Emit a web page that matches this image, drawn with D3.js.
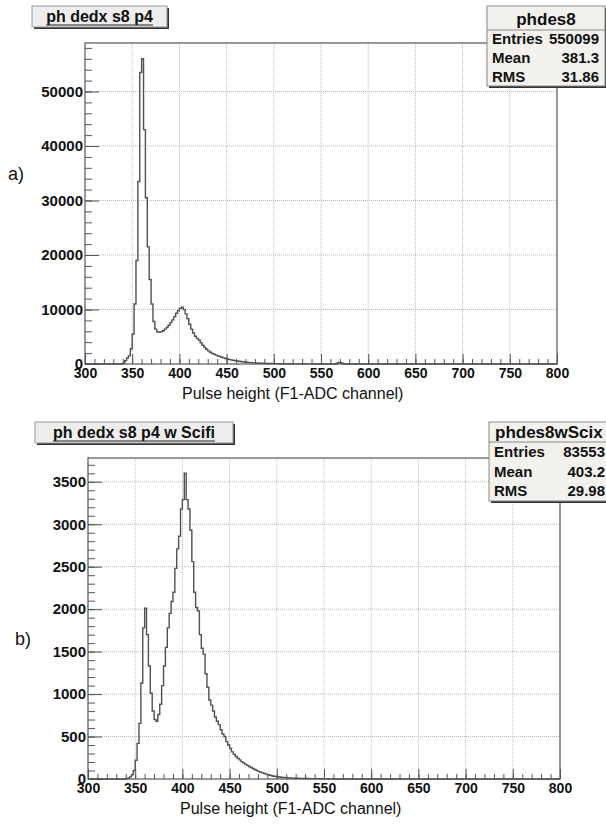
<!DOCTYPE html>
<html>
<head>
<meta charset="utf-8">
<script src="https://cdn.jsdelivr.net/npm/d3@7"></script>
<style>
  body { margin: 0; background: #fff; }
  svg text { font-family: "Liberation Sans", Arial, Helvetica, sans-serif; }
</style>
</head>
<body>
<div id="chart"></div>
<script>
// histogram binning (F1-ADC channels), 2 channels per bin
let xDomain = [300, 800];
let binWidth = 2;
let xMajorTicks = [300, 350, 400, 450, 500, 550, 600, 650, 700, 750, 800];

// panel a) counts per bin, first bin starts at 338
let firstBinA = 338;
let countsA = [
    50, 150, 600, 1100, 1500, 2800, 5500, 11000, 19000, 33500,
    53500, 56000, 43000, 30500, 21500, 15500, 11000, 7800, 6400, 5900,
    5800, 5900, 6100, 6400, 6700, 7100, 7600, 8100, 8700, 9300,
    9800, 10200, 10400, 10000, 9200, 8300, 7300, 6400, 5700, 5100,
    4700, 4400, 3900, 3450, 3050, 2700, 2400, 2150, 1950, 1780,
    1630, 1500, 1380, 1250, 1130, 1020, 920, 830, 750, 680,
    620, 560, 500, 450, 400, 360, 320, 290, 260, 235,
    210, 190, 170, 155, 140, 125, 115, 105, 95, 88,
    80, 74, 68, 62, 57, 52, 48, 44, 40, 37,
    34, 31, 28, 26, 24, 22, 20, 18, 17, 16,
    15, 14, 13, 12, 11, 10, 10, 9, 9, 8,
    8, 7, 7, 6, 150, 300, 250, 80, 20, 10,
    8, 7, 6, 5, 5, 4, 4, 3, 3, 2
];
let yMaxA = 58900;
let yMajorA = [0, 10000, 20000, 30000, 40000, 50000];
let yMinorStepA = 2000;

// panel b) counts per bin, first bin starts at 340
let firstBinB = 340;
let countsB = [
    5, 10, 25, 50, 100, 220, 420, 655, 1130, 1780,
    2010, 1700, 1330, 1010, 800, 700, 680, 760, 880, 1100,
    1330, 1550, 1780, 1950, 2090, 2200, 2480, 2710, 2860, 3180,
    3290, 3600, 3290, 3180, 2930, 2560, 2200, 2020, 1980, 1700,
    1540, 1470, 1240, 1080, 930, 870, 800, 730, 680, 640,
    580, 530, 500, 440, 400, 360, 320, 290, 265, 245,
    225, 205, 190, 175, 160, 148, 136, 124, 112, 100,
    90, 80, 72, 64, 57, 50, 44, 38, 33, 29,
    26, 23, 20, 18, 16, 14, 12, 11, 10, 9,
    8, 8, 7, 7, 6, 6, 6, 5, 5, 5,
    5, 4, 4, 4, 3, 3, 3, 3, 2, 2
];
let yMaxB = 3780;
let yMajorB = [0, 500, 1000, 1500, 2000, 2500, 3000, 3500];
let yMinorStepB = 100;

let titleA = "ph dedx s8 p4";
let titleB = "ph dedx s8 p4 w Scifi";
let statsNameA = "phdes8";
let statsNameB = "phdes8wScix";
let statsA = [["Entries", "550099"], ["Mean", "381.3"], ["RMS", "31.86"]];
let statsB = [["Entries", "83553"], ["Mean", "403.2"], ["RMS", "29.98"]];
let xTitle = "Pulse height (F1-ADC channel)";

let svg = d3.select("#chart")
    .append("svg")
    .attr("width", 606)
    .attr("height", 825);

/**
 * Draws one ROOT-style histogram panel.
 */
function drawPanel(p) {
    let g = svg.append("g");

    let x = d3.scaleLinear().domain(xDomain).range([p.left, p.right]);
    let y = d3.scaleLinear().domain([0, p.yMax]).range([p.bottom, p.top]);
    let h = p.bottom - p.top;
    let w = p.right - p.left;

    // grid
    let grid = g.append("g").attr("class", "grid");
    grid.selectAll(".vg")
        .data(xMajorTicks.slice(1, -1))
        .join("line")
        .attr("x1", d => x(d)).attr("x2", d => x(d))
        .attr("y1", p.top).attr("y2", p.bottom);
    grid.selectAll(".hg")
        .data(p.yMajor.slice(1))
        .join("line")
        .attr("x1", p.left).attr("x2", p.right)
        .attr("y1", d => y(d)).attr("y2", d => y(d));
    grid.selectAll("line")
        .attr("stroke", "#b8b8b8")
        .attr("stroke-width", 1)
        .attr("stroke-dasharray", "1,1");

    // minor ticks
    let xMinor = d3.range(xDomain[0], xDomain[1] + 1, 10);
    g.append("g")
        .attr("transform", `translate(0,${p.bottom})`)
        .call(d3.axisBottom(x).tickValues(xMinor).tickSize(-5).tickFormat(""))
        .call(a => a.select(".domain").remove());
    let yMinor = d3.range(0, p.yMax, p.yMinorStep);
    g.append("g")
        .attr("transform", `translate(${p.left},0)`)
        .call(d3.axisLeft(y).tickValues(yMinor).tickSize(-7).tickFormat(""))
        .call(a => a.select(".domain").remove());

    // major ticks + labels
    let xa = g.append("g")
        .attr("transform", `translate(0,${p.bottom})`)
        .call(d3.axisBottom(x).tickValues(xMajorTicks).tickSize(-10).tickPadding(4).tickFormat(d3.format("d")));
    xa.select(".domain").remove();
    xa.selectAll("text")
        .attr("fill", "#111")
        .style("font-size", "14px")
        .style("font-weight", "bold");

    let ya = g.append("g")
        .attr("transform", `translate(${p.left},0)`)
        .call(d3.axisLeft(y).tickValues(p.yMajor).tickSize(-14).tickPadding(2).tickFormat(d3.format("d")));
    ya.select(".domain").remove();
    ya.selectAll("text")
        .attr("fill", "#111")
        .style("font-size", "15px")
        .style("font-weight", "bold");
    g.selectAll(".tick line").attr("stroke", "#555");

    // frame
    g.append("rect")
        .attr("x", p.left).attr("y", p.top)
        .attr("width", w).attr("height", h)
        .attr("fill", "none")
        .attr("stroke", "#555")
        .attr("stroke-width", 1.2);

    // histogram outline
    let pts = [];
    for (let b = xDomain[0]; b < xDomain[1]; b += binWidth) {
        let i = (b - p.firstBin) / binWidth;
        let v = (i >= 0 && i < p.counts.length) ? p.counts[i] : 0;
        pts.push([b, v]);
    }
    pts.push([xDomain[1], pts[pts.length - 1][1]]);
    let line = d3.line()
        .x(d => x(d[0]))
        .y(d => y(d[1]))
        .curve(d3.curveStepAfter);
    g.append("path")
        .datum(pts)
        .attr("d", line)
        .attr("fill", "none")
        .attr("stroke", "#505050")
        .attr("stroke-width", 1.4);

    // x title
    g.append("text")
        .attr("x", p.xTitleX)
        .attr("y", p.bottom + 35)
        .attr("font-size", 16)
        .attr("fill", "#111")
        .text(xTitle);

    // title box
    let tb = p.titleBox;
    g.append("rect")
        .attr("x", tb.x + 2).attr("y", tb.y + 2)
        .attr("width", tb.w).attr("height", tb.h)
        .attr("fill", "#333");
    g.append("rect")
        .attr("x", tb.x).attr("y", tb.y)
        .attr("width", tb.w).attr("height", tb.h)
        .attr("fill", "#ededed")
        .attr("stroke", "#999");
    let tt = g.append("text")
        .attr("x", tb.x + tb.w / 2)
        .attr("y", tb.y + tb.h - 5)
        .attr("text-anchor", "middle")
        .attr("font-size", 16)
        .attr("font-weight", "bold")
        .attr("fill", "#111")
        .text(p.title);
    let bb = tt.node().getBBox();
    g.append("line")
        .attr("x1", bb.x).attr("x2", bb.x + bb.width)
        .attr("y1", tb.y + tb.h - 2).attr("y2", tb.y + tb.h - 2)
        .attr("stroke", "#222").attr("stroke-width", 1.2);

    // stats box
    let sb = p.statsBox;
    g.append("rect")
        .attr("x", sb.x + 2).attr("y", sb.y + 2)
        .attr("width", sb.w).attr("height", sb.h)
        .attr("fill", "#333");
    g.append("rect")
        .attr("x", sb.x).attr("y", sb.y)
        .attr("width", sb.w).attr("height", sb.h)
        .attr("fill", "#f3f1ee")
        .attr("stroke", "#888");
    g.append("line")
        .attr("x1", sb.x).attr("x2", sb.x + sb.w)
        .attr("y1", sb.y + sb.head).attr("y2", sb.y + sb.head)
        .attr("stroke", "#888");
    g.append("text")
        .attr("x", sb.nameAnchor === "middle" ? sb.x + sb.w / 2 : sb.x + 6)
        .attr("y", sb.y + sb.nameY)
        .attr("text-anchor", sb.nameAnchor)
        .attr("font-size", 17)
        .attr("font-weight", "bold")
        .attr("fill", "#111")
        .text(p.statsName);
    let rowH = (sb.h - sb.head) / p.stats.length;
    p.stats.forEach((r, i) => {
        let ty = sb.y + sb.head + rowH * (i + 0.5) + 5;
        g.append("text")
            .attr("x", sb.x + 5).attr("y", ty)
            .attr("font-size", 15).attr("font-weight", "bold").attr("fill", "#111")
            .text(r[0]);
        g.append("text")
            .attr("x", sb.valueX).attr("y", ty)
            .attr("text-anchor", "end")
            .attr("font-size", 15).attr("font-weight", "bold").attr("fill", "#111")
            .text(r[1]);
    });

    // panel letter
    svg.append("text")
        .attr("x", p.letterX).attr("y", p.letterY)
        .attr("font-size", 18)
        .attr("fill", "#111")
        .text(p.letter);
}

drawPanel({
    left: 85, right: 557, top: 43, bottom: 364,
    yMax: yMaxA, yMajor: yMajorA, yMinorStep: yMinorStepA,
    firstBin: firstBinA, counts: countsA,
    title: titleA, titleBox: {x: 32, y: 6, w: 135, h: 21},
    statsName: statsNameA, stats: statsA,
    statsBox: {x: 487, y: 6, w: 118, h: 80, head: 24, nameY: 19, valueX: 599, nameAnchor: "middle"},
    xTitleX: 182, letter: "a)", letterX: 8, letterY: 180
});

drawPanel({
    left: 88, right: 560, top: 458, bottom: 779,
    yMax: yMaxB, yMajor: yMajorB, yMinorStep: yMinorStepB,
    firstBin: firstBinB, counts: countsB,
    title: titleB, titleBox: {x: 35, y: 422, w: 198, h: 21},
    statsName: statsNameB, stats: statsB,
    statsBox: {x: 489, y: 422, w: 122, h: 79, head: 20, nameY: 16, valueX: 605, nameAnchor: "start"},
    xTitleX: 180, letter: "b)", letterX: 15, letterY: 645
});
</script>
</body>
</html>
